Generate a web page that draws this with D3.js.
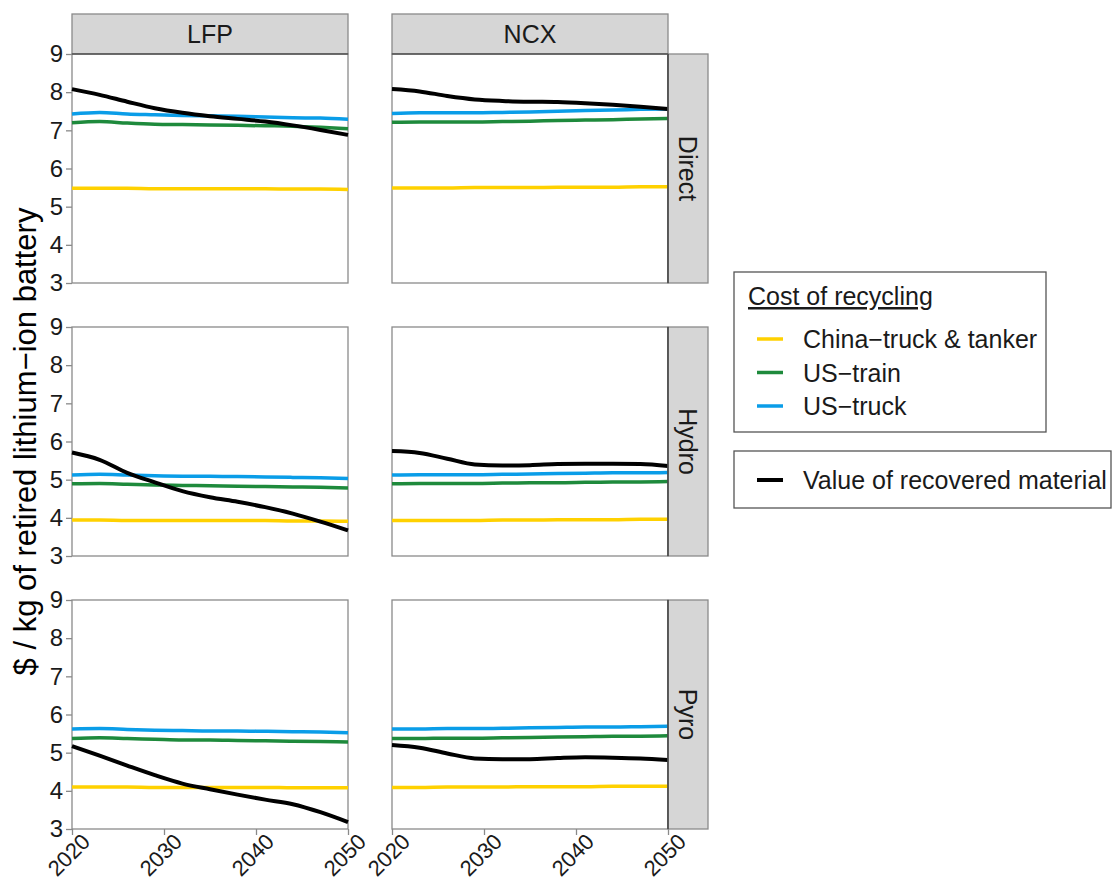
<!DOCTYPE html>
<html>
<head>
<meta charset="utf-8">
<script src="https://cdn.jsdelivr.net/npm/d3@7"></script>
<style>
  body { margin: 0; background: #fff; }
  svg { font-family: "Liberation Sans", Arial, sans-serif; }
</style>
</head>
<body>
<svg id="chart" width="1113" height="881"></svg>
<script>
(function () {
    'use strict';

    // data
    const years = [2020, 2023, 2026, 2029, 2032, 2035, 2038, 2041, 2044, 2047, 2050];
    const chemistries = ["LFP", "NCX"];
    const processes = ["Direct", "Hydro", "Pyro"];
    const seriesNames = ["China\u2212truck & tanker", "US\u2212train", "US\u2212truck", "Value of recovered material"];
    const seriesColors = ["#ffd100", "#1e8a3c", "#0a9de8", "#000000"];
    const yTicks = [3, 4, 5, 6, 7, 8, 9];
    const xTicks = [2020, 2030, 2040, 2050];

    // each panel: china, train, truck, value
    const lfpDirect = [
        [5.48, 5.48, 5.48, 5.47, 5.47, 5.47, 5.47, 5.47, 5.46, 5.46, 5.45],
        [7.20, 7.23, 7.19, 7.16, 7.15, 7.14, 7.13, 7.12, 7.11, 7.08, 7.04],
        [7.43, 7.47, 7.43, 7.41, 7.39, 7.38, 7.37, 7.35, 7.33, 7.32, 7.29],
        [8.08, 7.93, 7.75, 7.58, 7.46, 7.37, 7.30, 7.23, 7.13, 7.01, 6.88]
    ];
    const ncxDirect = [
        [5.49, 5.49, 5.49, 5.50, 5.50, 5.50, 5.51, 5.51, 5.51, 5.52, 5.52],
        [7.21, 7.22, 7.22, 7.22, 7.23, 7.24, 7.26, 7.27, 7.28, 7.30, 7.31],
        [7.44, 7.46, 7.46, 7.46, 7.47, 7.48, 7.50, 7.52, 7.53, 7.55, 7.56],
        [8.08, 8.02, 7.90, 7.81, 7.77, 7.75, 7.74, 7.71, 7.67, 7.62, 7.56]
    ];
    const lfpHydro = [
        [3.94, 3.94, 3.93, 3.93, 3.93, 3.93, 3.93, 3.93, 3.92, 3.92, 3.91],
        [4.89, 4.90, 4.88, 4.86, 4.85, 4.84, 4.83, 4.82, 4.81, 4.80, 4.78],
        [5.12, 5.14, 5.12, 5.10, 5.09, 5.09, 5.08, 5.07, 5.06, 5.05, 5.03],
        [5.71, 5.52, 5.18, 4.93, 4.70, 4.54, 4.42, 4.28, 4.11, 3.90, 3.67]
    ];
    const ncxHydro = [
        [3.93, 3.93, 3.93, 3.93, 3.94, 3.94, 3.95, 3.95, 3.95, 3.96, 3.96],
        [4.89, 4.90, 4.90, 4.90, 4.91, 4.92, 4.92, 4.93, 4.94, 4.94, 4.95],
        [5.12, 5.13, 5.13, 5.13, 5.14, 5.15, 5.16, 5.17, 5.18, 5.18, 5.19],
        [5.75, 5.70, 5.55, 5.40, 5.37, 5.38, 5.41, 5.42, 5.42, 5.41, 5.36]
    ];
    const lfpPyro = [
        [4.10, 4.10, 4.10, 4.09, 4.09, 4.09, 4.09, 4.09, 4.08, 4.08, 4.08],
        [5.37, 5.39, 5.37, 5.35, 5.33, 5.33, 5.32, 5.31, 5.30, 5.29, 5.28],
        [5.62, 5.63, 5.61, 5.59, 5.58, 5.57, 5.57, 5.56, 5.55, 5.54, 5.52],
        [5.17, 4.92, 4.66, 4.41, 4.19, 4.04, 3.90, 3.77, 3.65, 3.44, 3.18]
    ];
    const ncxPyro = [
        [4.09, 4.09, 4.10, 4.10, 4.10, 4.11, 4.11, 4.11, 4.12, 4.12, 4.12],
        [5.37, 5.37, 5.38, 5.38, 5.39, 5.40, 5.41, 5.42, 5.43, 5.43, 5.44],
        [5.62, 5.62, 5.63, 5.63, 5.64, 5.65, 5.66, 5.67, 5.67, 5.68, 5.69],
        [5.20, 5.13, 4.98, 4.85, 4.83, 4.83, 4.86, 4.88, 4.87, 4.85, 4.81]
    ];

    const panels = {
        "LFP|Direct": lfpDirect, "NCX|Direct": ncxDirect,
        "LFP|Hydro": lfpHydro, "NCX|Hydro": ncxHydro,
        "LFP|Pyro": lfpPyro, "NCX|Pyro": ncxPyro
    };

    // layout
    const colLeft = [72, 392];
    const rowTop = [54, 327, 600];
    const pw = 276, ph = 229;
    const stripH = 40, stripW = 40;
    const borderCol = "#8a8a8a";
    const fontSize = 25;
    const tickFont = 24;

    const svg = d3.select("#chart");

    const x = d3.scaleLinear().domain([2020, 2050]).range([0, pw]);
    const y = d3.scaleLinear().domain([3, 9]).range([ph, 0]);
    const line = d3.line()
        .x((d, i) => x(years[i]))
        .y(d => y(d))
        .curve(d3.curveMonotoneX);

    chemistries.forEach((chem, ci) => {
        // top strip
        const sg = svg.append("g").attr("transform", `translate(${colLeft[ci]},${rowTop[0] - stripH})`);
        sg.append("rect")
            .attr("width", pw).attr("height", stripH)
            .attr("fill", "#d6d6d6").attr("stroke", borderCol).attr("stroke-width", 1.3);
        sg.append("text")
            .attr("x", pw / 2).attr("y", stripH / 2).attr("dy", "0.36em")
            .attr("text-anchor", "middle").attr("font-size", fontSize).attr("fill", "#1a1a1a")
            .text(chem);

        processes.forEach((proc, ri) => {
            const g = svg.append("g").attr("transform", `translate(${colLeft[ci]},${rowTop[ri]})`);
            g.append("rect")
                .attr("width", pw).attr("height", ph)
                .attr("fill", "#fff").attr("stroke", borderCol).attr("stroke-width", 1.3);

            const data = panels[chem + "|" + proc];
            g.selectAll("path.series")
                .data(data)
                .join("path")
                .attr("class", "series")
                .attr("fill", "none")
                .attr("stroke", (d, i) => seriesColors[i])
                .attr("stroke-width", (d, i) => i === 3 ? 4 : 3.5)
                .attr("stroke-linejoin", "round")
                .attr("d", line);

            if (ci === 0) {
                const ax = g.append("g").call(d3.axisLeft(y).tickValues(yTicks).tickSize(6).tickPadding(3)
                    .tickFormat(d3.format("d")));
                ax.select(".domain").remove();
                ax.selectAll(".tick line").attr("stroke", borderCol).attr("stroke-width", 1.3);
                ax.selectAll(".tick text").attr("font-size", tickFont).attr("fill", "#1a1a1a")
                    .attr("font-family", "Liberation Sans, Arial, sans-serif");
            }

            if (ri === processes.length - 1) {
                const ax = g.append("g").attr("transform", `translate(0,${ph})`)
                    .call(d3.axisBottom(x).tickValues(xTicks).tickSize(6).tickFormat(d3.format("d")));
                ax.select(".domain").remove();
                ax.selectAll(".tick line").attr("stroke", borderCol).attr("stroke-width", 1.3);
                ax.selectAll(".tick text")
                    .attr("font-size", 22).attr("fill", "#1a1a1a")
                    .attr("font-family", "Liberation Sans, Arial, sans-serif")
                    .attr("text-anchor", "end")
                    .attr("y", 0).attr("dy", 0)
                    .attr("transform", "translate(19,14) rotate(-45)");
            }

            if (ci === chemistries.length - 1) {
                const rg = svg.append("g").attr("transform", `translate(${colLeft[ci] + pw},${rowTop[ri]})`);
                rg.append("rect")
                    .attr("width", stripW).attr("height", ph)
                    .attr("fill", "#d6d6d6").attr("stroke", borderCol).attr("stroke-width", 1.3);
                rg.append("line")
                    .attr("x1", 0).attr("x2", 0).attr("y1", 0).attr("y2", ph)
                    .attr("stroke", "#333").attr("stroke-width", 1.3);
                rg.append("text")
                    .attr("transform", `translate(${stripW / 2},${ph / 2}) rotate(90)`)
                    .attr("dy", "0.36em")
                    .attr("text-anchor", "middle").attr("font-size", fontSize).attr("fill", "#1a1a1a")
                    .text(proc);
            }
        });
        // darker line under the top strip
        svg.append("line")
            .attr("x1", colLeft[ci]).attr("x2", colLeft[ci] + pw)
            .attr("y1", rowTop[0]).attr("y2", rowTop[0])
            .attr("stroke", "#555").attr("stroke-width", 1.3);
    });

    // y axis title
    svg.append("text")
        .attr("transform", `translate(36,${(rowTop[0] + rowTop[2] + ph) / 2}) rotate(-90)`)
        .attr("text-anchor", "middle")
        .attr("font-size", 31)
        .attr("fill", "#000")
        .text("$ / kg of retired lithium\u2212ion battery");

    // legend 1: recycling costs
    const lg = svg.append("g").attr("transform", "translate(734,272)");
    lg.append("rect").attr("width", 312).attr("height", 160)
        .attr("fill", "#fff").attr("stroke", "#555").attr("stroke-width", 1.3);
    lg.append("text").attr("x", 14).attr("y", 33)
        .attr("font-size", fontSize).attr("fill", "#1a1a1a")
        .attr("text-decoration", "underline")
        .text("Cost of recycling");
    const items = lg.selectAll("g.item")
        .data(seriesNames.slice(0, 3))
        .join("g")
        .attr("class", "item")
        .attr("transform", (d, i) => `translate(0,${67 + i * 33.5})`);
    items.append("line")
        .attr("x1", 23).attr("x2", 49)
        .attr("stroke", (d, i) => seriesColors[i]).attr("stroke-width", 3.5);
    items.append("text")
        .attr("x", 69).attr("dy", "0.36em")
        .attr("font-size", fontSize).attr("fill", "#1a1a1a")
        .text(d => d);

    // legend 2: value of recovered material
    const lg2 = svg.append("g").attr("transform", "translate(734,451)");
    lg2.append("rect").attr("width", 377).attr("height", 57)
        .attr("fill", "#fff").attr("stroke", "#555").attr("stroke-width", 1.3);
    lg2.append("line")
        .attr("x1", 23).attr("x2", 49).attr("y1", 29).attr("y2", 29)
        .attr("stroke", seriesColors[3]).attr("stroke-width", 4);
    lg2.append("text")
        .attr("x", 69).attr("y", 29).attr("dy", "0.36em")
        .attr("font-size", fontSize).attr("fill", "#1a1a1a")
        .text(seriesNames[3]);
}());
</script>
</body>
</html>
